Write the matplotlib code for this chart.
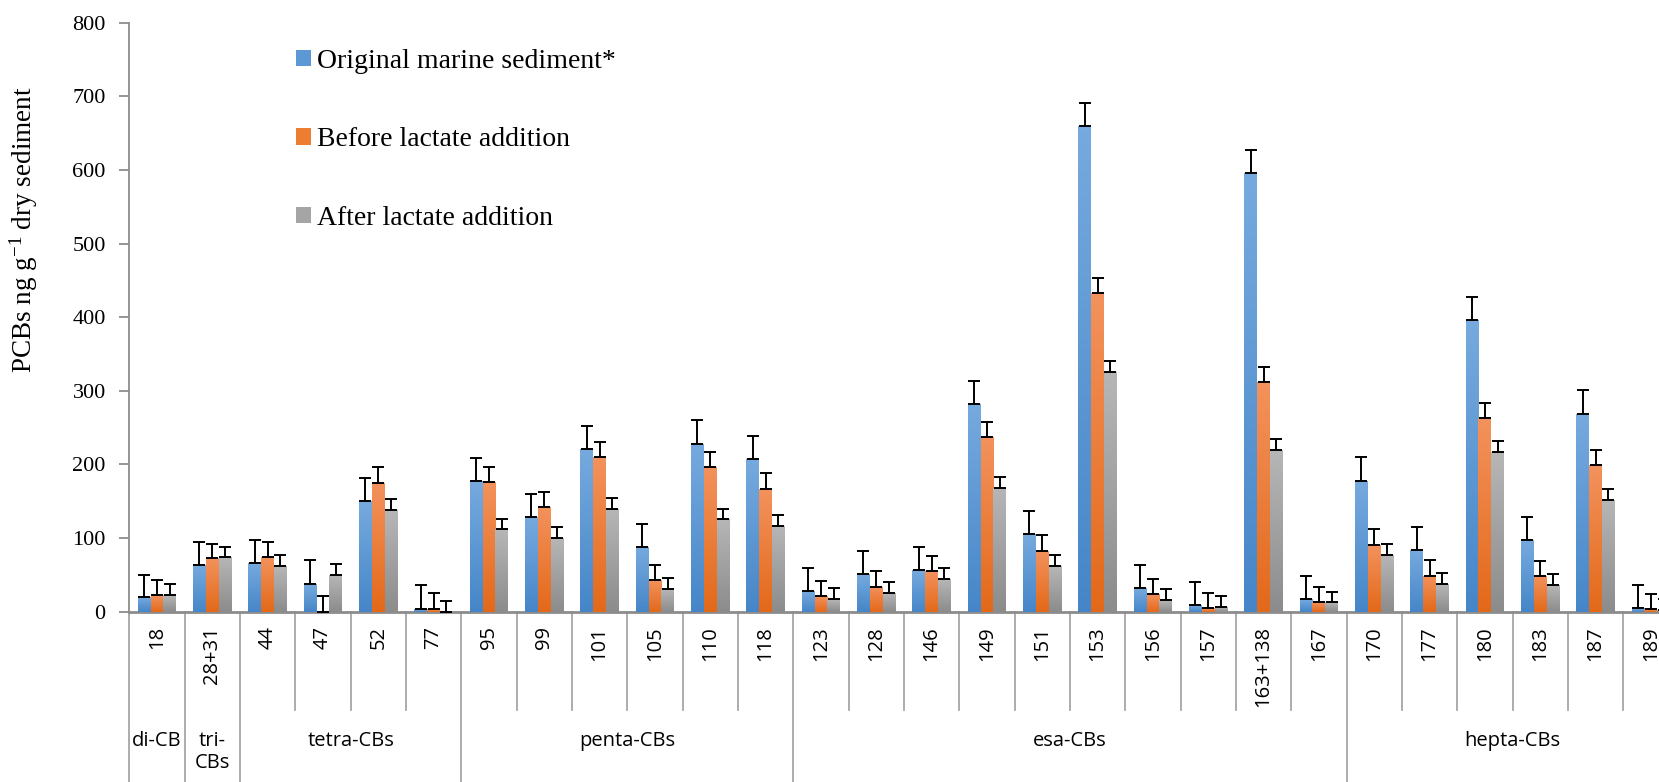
import numpy as np
import matplotlib
matplotlib.use('Agg')
import matplotlib.pyplot as plt
from matplotlib.colors import LinearSegmentedColormap
from matplotlib.transforms import blended_transform_factory

categories = ['18', '28+31', '44', '47', '52', '77', '95', '99', '101', '105', '110', '118',
              '123', '128', '146', '149', '151', '153', '156', '157', '163+138', '167',
              '170', '177', '180', '183', '187', '189']
original = [20, 64, 66, 38, 150, 4, 178, 129, 221, 88, 228, 207, 28, 51, 57, 282, 106, 660,
            32, 9, 596, 17, 178, 84, 396, 97, 269, 5]
before = [23, 73, 74, 0, 175, 4, 176, 142, 210, 43, 197, 167, 21, 34, 55, 237, 83, 433,
          24, 5, 312, 13, 91, 49, 263, 49, 199, 4]
after = [23, 74, 62, 50, 138, 0, 112, 100, 140, 31, 126, 117, 17, 25, 44, 168, 62, 326,
         16, 6, 220, 13, 77, 38, 217, 36, 152, 2]
err_original = [30, 31, 31, 32, 31, 32, 31, 31, 31, 31, 32, 31, 32, 32, 31, 32, 31, 31,
                31, 31, 31, 32, 32, 31, 32, 31, 32, 31]
err_before = [20, 19, 20, 21, 21, 21, 21, 21, 20, 20, 20, 21, 21, 21, 20, 20, 21, 20,
              20, 21, 20, 21, 21, 21, 20, 20, 20, 20]
err_after = [15, 14, 15, 15, 15, 15, 14, 15, 15, 15, 14, 15, 15, 15, 15, 15, 15, 15,
             15, 15, 15, 14, 15, 15, 15, 15, 15, 15]
series_labels = ['Original marine sediment*', 'Before lactate addition', 'After lactate addition']
group_labels = ['di-CB', 'tri-\nCBs', 'tetra-CBs', 'penta-CBs', 'esa-CBs', 'hepta-CBs']
group_sizes = [1, 1, 4, 6, 10, 6]

plt.rcParams['mathtext.fontset'] = 'custom'
plt.rcParams['mathtext.rm'] = 'Liberation Serif'
plt.rcParams['mathtext.it'] = 'Liberation Serif:italic'

W, H = 1659, 782
fig = plt.figure(figsize=(W / 100, H / 100), dpi=100)
x_left, y_zero, y_top = 129.3, 611.7, 22.7
ax = fig.add_axes([x_left / W, 1 - y_zero / H, 1 - x_left / W, (y_zero - y_top) / H])

x = np.arange(len(categories))
bw = 0.2315
styles = [('#4686C8', '#76AADE', '#5B98D4'),
          ('#E3691A', '#F3925C', '#ED7D31'),
          ('#8C8C8C', '#B6B6B6', '#A5A5A5')]
grad = np.linspace(0, 1, 64).reshape(-1, 1)
data = [(original, err_original), (before, err_before), (after, err_after)]
for k, ((vals, errs), label, (cb, ct, cm)) in enumerate(zip(data, series_labels, styles)):
    xs = x + (k - 1) * bw
    bars = ax.bar(xs, vals, width=bw, color=cm, label=label, zorder=2, linewidth=0)
    cmap = LinearSegmentedColormap.from_list('g%d' % k, [cb, ct])
    for p in bars.patches:
        h = p.get_height()
        if h <= 0:
            continue
        x0, w = p.get_x(), p.get_width()
        im = ax.imshow(grad, extent=[x0, x0 + w, 0, h], origin='lower', cmap=cmap,
                       aspect='auto', zorder=3, interpolation='bilinear')
        im.set_clip_path(p)
    ax.errorbar(xs, vals, yerr=[np.zeros(len(vals)), errs], fmt='none', ecolor='black',
                elinewidth=1.4, capsize=4, capthick=1.4, zorder=4)

ax.set_xlim(-0.5, -0.5 + (W - x_left) / 55.33)
ax.set_ylim(0, 800)
ax.set_yticks(range(0, 801, 100))
ax.set_xticks([])
for s in ['top', 'right']:
    ax.spines[s].set_visible(False)
ax.spines['left'].set_color('#8C8C8C')
ax.spines['left'].set_linewidth(1.3)
ax.spines['bottom'].set_color('#8C8C8C')
ax.spines['bottom'].set_linewidth(2)
ax.tick_params(axis='y', direction='out', length=7, width=1.3, color='#8C8C8C', pad=10,
               labelsize=16)
for t in ax.get_yticklabels():
    t.set_family('Liberation Serif')

fig.text(24 / W, 1 - 230 / H, 'PCBs ng g$^{-1}$ dry sediment', rotation=90, ha='center',
         va='center', fontsize=19.5, family='Liberation Serif')

leg = ax.legend(loc='upper left', bbox_to_anchor=(296 / W, 1 - 49 / H),
                bbox_transform=fig.transFigure, frameon=False, borderpad=0,
                borderaxespad=0, handlelength=0.53, handleheight=0.53,
                handletextpad=0.22, labelspacing=1.92,
                prop={'family': 'Liberation Serif', 'size': 20})

trans = blended_transform_factory(ax.transData, fig.transFigure)
bounds = np.cumsum([0] + group_sizes) - 0.5
for b in np.arange(len(categories) + 1) - 0.5:
    is_group = np.any(np.isclose(b, bounds))
    y1 = 0 if is_group else 1 - 710 / H
    ax.plot([b, b], [1 - y_zero / H, y1], transform=trans, color='#A6A6A6', lw=1.3,
            clip_on=False, zorder=1)

for i, c in enumerate(categories):
    ax.text(i, 1 - 626 / H, c, transform=trans, rotation=90, ha='center', va='top',
            fontsize=14.5, family='Open Sans', clip_on=False)

for g, lab in enumerate(group_labels):
    cx = (bounds[g] + bounds[g + 1]) / 2
    ax.text(cx, 1 - 731 / H, lab, transform=trans, ha='center', va='top',
            fontsize=14.5, family='Open Sans', linespacing=1.15, clip_on=False)

fig.savefig('out.png', dpi=100)
